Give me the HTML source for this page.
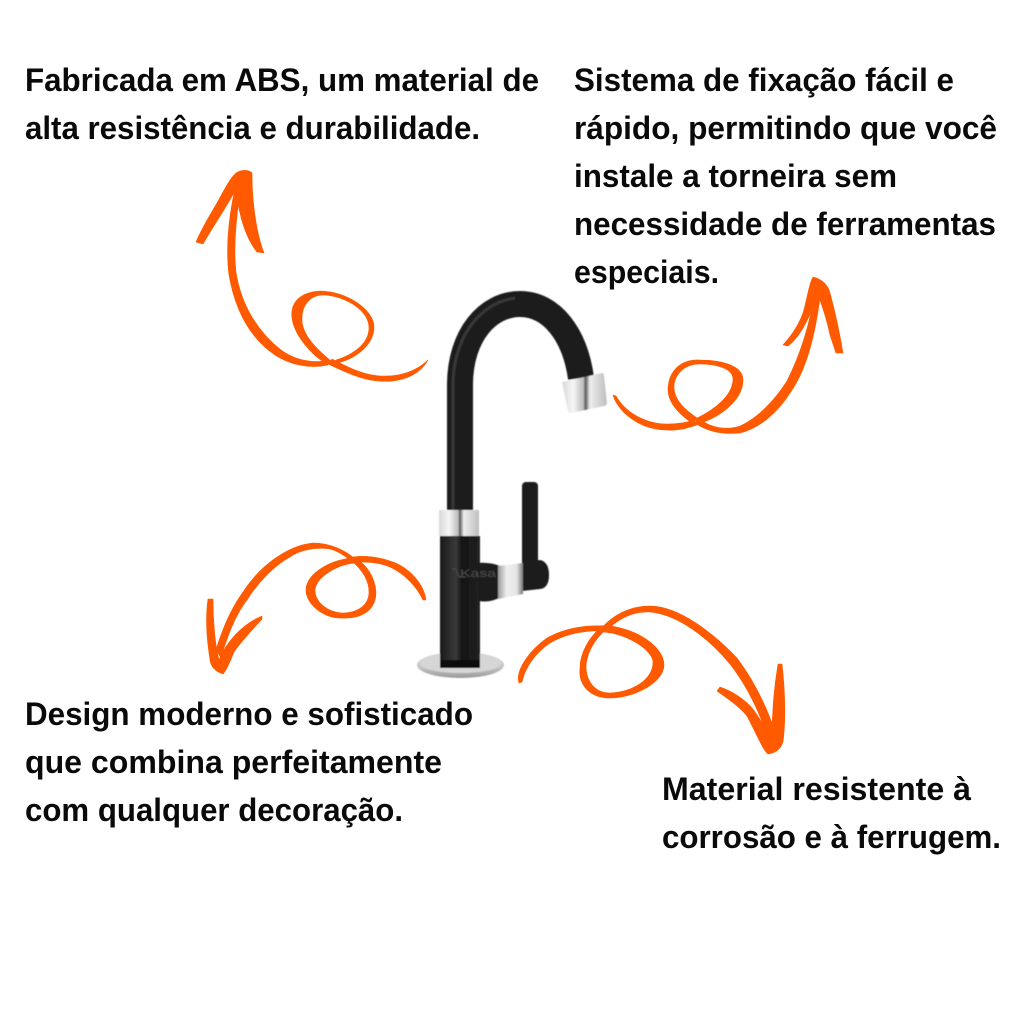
<!DOCTYPE html>
<html lang="pt-BR">
<head>
<meta charset="utf-8">
<title>Torneira</title>
<style>
html,body{margin:0;padding:0;background:#fff;width:1024px;height:1024px;overflow:hidden}
svg{display:block}
text.t{font-family:"Liberation Sans",sans-serif;font-weight:700;font-size:32px;fill:#0a0a0a}
.o path{fill:#ff5a00;stroke:#ff5a00;stroke-width:.6;stroke-linejoin:round}
</style>
</head>
<body>
<svg xmlns="http://www.w3.org/2000/svg" width="1024" height="1024" viewBox="0 0 1024 1024">
<defs>
<linearGradient id="chrome" x1="0" y1="0" x2="1" y2="0">
<stop offset="0" stop-color="#d8d8d8"/><stop offset=".25" stop-color="#f6f6f6"/><stop offset=".48" stop-color="#bbb"/><stop offset=".52" stop-color="#555"/><stop offset=".62" stop-color="#eee"/><stop offset="1" stop-color="#bdbdbd"/>
</linearGradient>
<linearGradient id="chromeV" x1="0" y1="0" x2="1" y2="0">
<stop offset="0" stop-color="#999"/><stop offset=".35" stop-color="#f0f0f0"/><stop offset=".75" stop-color="#e4e4e4"/><stop offset="1" stop-color="#777"/>
</linearGradient>
<linearGradient id="black" x1="0" y1="0" x2="1" y2="0">
<stop offset="0" stop-color="#1a1a1a"/><stop offset=".4" stop-color="#3a3a3a"/><stop offset=".55" stop-color="#141414"/><stop offset="1" stop-color="#222"/>
</linearGradient>
<linearGradient id="base" x1="0" y1="0" x2="0" y2="1">
<stop offset="0" stop-color="#d4d4d4"/><stop offset=".6" stop-color="#c4c4c4"/><stop offset="1" stop-color="#9a9a9a"/>
</linearGradient>
<filter id="soft" x="-5%" y="-5%" width="110%" height="110%"><feGaussianBlur stdDeviation=".6"/></filter>
</defs>

<text class="t" x="25" y="91" textLength="514" lengthAdjust="spacingAndGlyphs">Fabricada em ABS, um material de</text>
<text class="t" x="25" y="139" textLength="455" lengthAdjust="spacingAndGlyphs">alta resistência e durabilidade.</text>
<text class="t" x="574" y="91" textLength="380" lengthAdjust="spacingAndGlyphs">Sistema de fixação fácil e</text>
<text class="t" x="574" y="139" textLength="423" lengthAdjust="spacingAndGlyphs">rápido, permitindo que você</text>
<text class="t" x="574" y="187" textLength="323" lengthAdjust="spacingAndGlyphs">instale a torneira sem</text>
<text class="t" x="574" y="235" textLength="422" lengthAdjust="spacingAndGlyphs">necessidade de ferramentas</text>
<text class="t" x="574" y="283" textLength="145" lengthAdjust="spacingAndGlyphs">especiais.</text>
<text class="t" x="25" y="725" textLength="448" lengthAdjust="spacingAndGlyphs">Design moderno e sofisticado</text>
<text class="t" x="25" y="773" textLength="417" lengthAdjust="spacingAndGlyphs">que combina perfeitamente</text>
<text class="t" x="25" y="821" textLength="378" lengthAdjust="spacingAndGlyphs">com qualquer decoração.</text>
<text class="t" x="662" y="800" textLength="309" lengthAdjust="spacingAndGlyphs">Material resistente à</text>
<text class="t" x="662" y="848" textLength="339" lengthAdjust="spacingAndGlyphs">corrosão e à ferrugem.</text>

<!-- Faucet -->
<g filter="url(#soft)">
<ellipse cx="460.500" cy="665" rx="43.500" ry="13" fill="url(#base)"/>
<ellipse cx="460.500" cy="663" rx="41" ry="10" fill="#d6d6d6"/>
<path d="M460 512 L460 385 C460 335 488 304 520 304 C552 304 575 335 581 378" fill="none" stroke="#1d1d1d" stroke-width="26"/>
<path d="M453 512 L453 385 C453 340 478 303 515 298" fill="none" stroke="#444" stroke-width="3" opacity=".7"/>
<path d="M562 382 L602 373 Q604 373 604 376 L607 403 Q607 405 604 406 L571 413 Q569 413 568 411 Z" fill="url(#chrome)"/>
<rect x="440" y="536" width="40" height="132" fill="url(#black)"/>
<rect x="440" y="660" width="40" height="8" rx="2" fill="#0c0c0c"/>
<rect x="439" y="510" width="40" height="26" rx="1" fill="url(#chrome)"/>
<rect x="522" y="482" width="16" height="84" rx="4" fill="#1b1b1b"/>
<path d="M477 563 Q490 562 500 566 L501 597 Q490 603 479 601 Z" fill="#1e1e1e"/>
<path d="M522 562 L540 560 Q549 562 549 575 Q549 588 540 589 L522 591 Z" fill="#1f1f1f"/>
<path d="M498 566 L523 563 L523 594 L498 599 Z" fill="url(#chromeV)"/>
<text x="460" y="577" font-family="'Liberation Sans',sans-serif" font-size="11" fill="#4c4c4c" textLength="36" lengthAdjust="spacingAndGlyphs">Kasa</text>
<path d="M452 569 L456 569 L459 577 L466 577" fill="none" stroke="#4c4c4c" stroke-width="1"/>
</g>

<!-- Arrow top-left -->
<g class="o">
<path d="M428 360 C419 376 400 383 378 381 C362 380 345 372 328 364 L332 359 C346 366 362 375 380 376 C400 377 417 371 428 360Z"/>
<path d="M333 364 C355 360 374 345 374 327 C374 309 345 291 320 291 C300 292 290 303 292 318 C294 335 312 356 327 364 L331 361 C318 350 301 335 302 318 C302 305 310 295 324 295 C345 296 369 310 369 328 C369 345 350 356 336 360Z"/>
<path d="M328 365 C310 369 290 365 275 355 C250 338 235 310 229 275 C225 245 230 205 238 178 L243 178 C237 205 233 245 236 272 C241 305 258 332 281 350 C295 360 310 363 326 361Z"/>
<path d="M196 242 L203 244 C212 228 228 205 240 182 C238 195 238 207 240 213 C244 232 252 246 257 252 L264 253 C257 235 252 205 252 173 C250 170 244 170 240 171 C233 173 228 183 217 203 C208 218 201 230 196 242Z"/>
</g>

<!-- Arrow top-right -->
<g class="o">
<path d="M613 395 C618 412 640 430 667 430 C678 431 688 428 697 425 L694 420 C685 423 677 424 667 424 C645 424 625 412 616 396Z"/>
<path d="M697 424 C715 420 743 402 743 380 C743 365 720 360 700 360 C680 359 668 372 668 390 C668 403 680 415 692 423 L697 418 C685 410 674 400 674 387 C674 374 685 364 700 364 C715 364 733 368 733 379 C733 395 715 410 695 419Z"/>
<path d="M695 423 C705 430 720 435 740 433 C760 428 778 412 790 393 C805 372 815 340 821 290 L815 290 C810 325 800 355 787 381 C775 400 758 418 740 426 C725 431 710 427 699 419Z"/>
<path d="M783 345 L788 346 C800 337 812 315 817 292 C822 305 827 320 830 335 L836 353 L843 353 C840 335 836 315 830 293 C828 285 822 279 813 277 C809 283 807 300 803 313 C798 327 790 337 783 345Z"/>
</g>

<!-- Arrow bottom-left -->
<g class="o">
<path d="M426 600 C424 585 410 567 390 561 C375 556 360 555 347 558 L348 563 C362 561 378 562 390 567 C405 574 417 587 423 600Z"/>
<path d="M355 558 C335 558 306 572 306 590 C306 605 325 619 342 618 C362 619 376 610 376 592 C375 577 367 566 357 559 L353 562 C362 570 369 580 369 592 C369 605 358 613 342 613 C327 612 315 602 315 590 C316 578 335 565 355 563Z"/>
<path d="M355 559 C345 550 330 543 313 543 C290 545 262 563 243 592 C230 610 222 630 216 650 L221 658 C226 640 235 615 247 600 C258 582 275 565 290 557 C300 550 315 547 330 549 C338 551 345 556 351 561Z"/>
<path d="M208 599 L213 599 C213 620 215 645 219 660 C225 645 240 625 262 616 L262 619 C252 630 240 643 234 652 C229 664 226 671 223 674 C217 672 211 668 210 660 C207 640 205 620 208 599Z"/>
</g>

<!-- Arrow bottom-right -->
<g class="o">
<path d="M519 683 C515 670 530 650 547 638 C565 628 585 625 605 626 L604 631 C585 630 565 634 550 643 C535 653 525 668 522 682Z"/>
<path d="M598 626 C625 623 664 643 664 665 C664 682 635 698 610 698 C590 698 578 685 580 668 C580 652 590 637 600 628 L603 632 C593 642 586 655 586 668 C587 682 595 693 610 693 C632 692 653 680 653 662 C653 650 625 632 600 632Z"/>
<path d="M600 630 C612 615 630 606 650 606 C680 606 715 635 737 658 C755 682 768 710 776 735 L770 742 C760 715 750 690 730 664 C710 640 680 615 650 612 C632 611 617 620 606 631Z"/>
<path d="M778 664 L782 664 C785 690 786 720 783 742 C780 750 775 753 768 754 C763 750 757 735 747 716 C738 705 725 697 717 691 L720 687 C735 692 750 703 757 715 L772 737 C772 712 774 688 778 664Z"/>
</g>
</svg>
</body>
</html>
